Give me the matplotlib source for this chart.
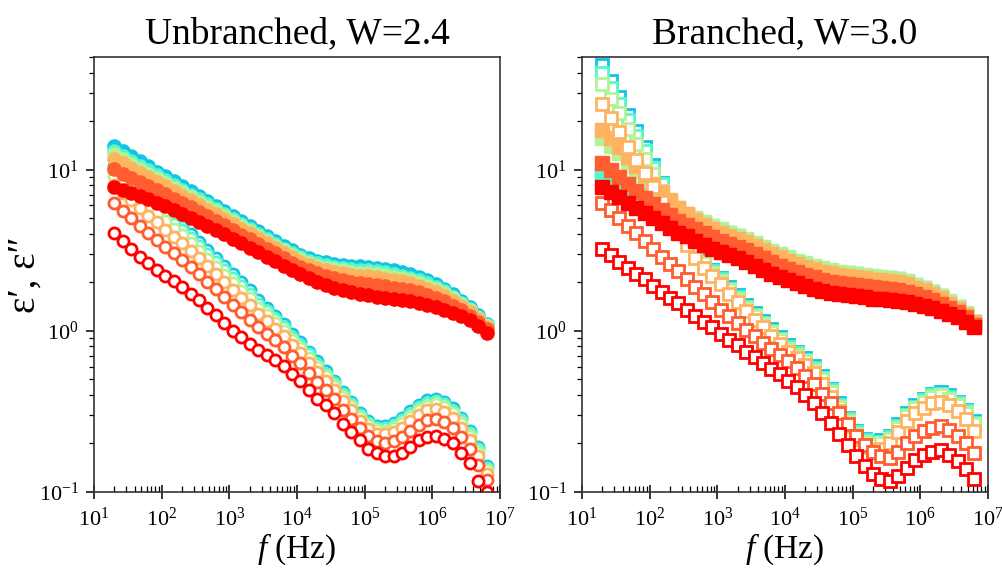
import matplotlib.pyplot as plt
from matplotlib.ticker import LogLocator
import numpy as np

plt.rcParams['font.family'] = ['Liberation Serif', 'DejaVu Serif']
plt.rcParams['mathtext.fontset'] = 'custom'
plt.rcParams['mathtext.rm'] = 'Liberation Serif'
plt.rcParams['mathtext.it'] = 'Liberation Serif:italic'

freq = [20, 26.7, 35.6, 47.4, 63.2, 84.3, 112, 150, 200, 267, 356, 474, 632, 843,
        1.12e3, 1.50e3, 2.00e3, 2.67e3, 3.56e3, 4.74e3, 6.32e3, 8.43e3,
        1.12e4, 1.50e4, 2.00e4, 2.67e4, 3.56e4, 4.74e4, 6.32e4, 8.43e4,
        1.12e5, 1.50e5, 2.00e5, 2.67e5, 3.56e5, 4.74e5, 6.32e5, 8.43e5,
        1.12e6, 1.50e6, 2.00e6, 2.67e6, 3.56e6, 4.74e6, 6.32e6]

# unbranched, eps' (filled circles), samples 1..6
unb_e1_1 = [14.06, 13.03, 12.11, 11.25, 10.47, 9.73, 9.08, 8.47, 7.89, 7.35, 6.85, 6.38, 5.96, 5.55, 5.16,
            4.81, 4.48, 4.16, 3.87, 3.61, 3.37, 3.15, 2.96, 2.82, 2.72, 2.66, 2.61, 2.57, 2.54, 2.52,
            2.50, 2.47, 2.43, 2.38, 2.32, 2.25, 2.17, 2.07, 1.96, 1.83, 1.69, 1.54, 1.40, 1.25, 1.10]
unb_e1_2 = [13.13, 12.20, 11.37, 10.59, 9.88, 9.21, 8.61, 8.04, 7.50, 7.00, 6.53, 6.09, 5.70, 5.31, 4.94,
            4.61, 4.30, 4.00, 3.72, 3.47, 3.24, 3.03, 2.85, 2.72, 2.62, 2.55, 2.50, 2.45, 2.42, 2.40,
            2.37, 2.34, 2.31, 2.26, 2.20, 2.14, 2.07, 1.98, 1.88, 1.76, 1.63, 1.49, 1.36, 1.22, 1.08]
unb_e1_3 = [12.45, 11.59, 10.82, 10.10, 9.45, 8.82, 8.27, 7.73, 7.22, 6.74, 6.30, 5.88, 5.51, 5.14, 4.79,
            4.47, 4.17, 3.88, 3.61, 3.37, 3.15, 2.95, 2.77, 2.64, 2.54, 2.47, 2.41, 2.37, 2.33, 2.30,
            2.28, 2.25, 2.21, 2.17, 2.12, 2.06, 1.99, 1.91, 1.82, 1.71, 1.59, 1.46, 1.34, 1.20, 1.07]
unb_e1_4 = [11.70, 10.93, 10.23, 9.57, 8.97, 8.40, 7.89, 7.39, 6.91, 6.46, 6.04, 5.65, 5.30, 4.95, 4.61,
            4.31, 4.02, 3.75, 3.49, 3.26, 3.05, 2.85, 2.69, 2.55, 2.45, 2.38, 2.32, 2.27, 2.23, 2.20,
            2.18, 2.15, 2.11, 2.07, 2.03, 1.97, 1.91, 1.83, 1.75, 1.65, 1.54, 1.42, 1.31, 1.18, 1.05]
unb_e1_5 = [10.02, 9.44, 8.89, 8.38, 7.91, 7.46, 7.05, 6.62, 6.21, 5.83, 5.47, 5.14, 4.83, 4.52, 4.22,
            3.95, 3.69, 3.45, 3.23, 3.02, 2.82, 2.64, 2.49, 2.37, 2.27, 2.19, 2.12, 2.06, 2.01, 1.98,
            1.95, 1.92, 1.89, 1.85, 1.82, 1.78, 1.73, 1.67, 1.60, 1.52, 1.43, 1.34, 1.24, 1.13, 1.02]
unb_e1_6 = [7.85, 7.50, 7.16, 6.84, 6.53, 6.24, 5.96, 5.62, 5.31, 5.01, 4.73, 4.47, 4.22, 3.96, 3.72,
            3.49, 3.27, 3.07, 2.88, 2.70, 2.53, 2.37, 2.24, 2.12, 2.02, 1.93, 1.85, 1.79, 1.73, 1.69,
            1.66, 1.63, 1.60, 1.57, 1.55, 1.52, 1.49, 1.45, 1.41, 1.35, 1.29, 1.23, 1.16, 1.07, 0.97]

# unbranched, eps'' (open circles)
unb_e2_1 = [10.5, 9.33, 8.51, 7.59, 6.76, 6.17, 5.50, 4.90, 4.47, 3.98, 3.55, 3.16, 2.82, 2.51, 2.24,
            2.00, 1.78, 1.55, 1.38, 1.23, 1.10, 0.955, 0.851, 0.741, 0.646, 0.562, 0.490, 0.417, 0.363, 0.309,
            0.275, 0.257, 0.257, 0.269, 0.288, 0.316, 0.347, 0.372, 0.380, 0.363, 0.331, 0.288, 0.240, 0.191, 0.145]
unb_e2_2 = [9.79, 8.73, 7.96, 7.10, 6.32, 5.77, 5.15, 4.60, 4.20, 3.75, 3.35, 2.99, 2.67, 2.38, 2.12,
            1.89, 1.69, 1.47, 1.32, 1.18, 1.05, 0.916, 0.818, 0.713, 0.622, 0.543, 0.474, 0.404, 0.352, 0.301,
            0.268, 0.250, 0.249, 0.260, 0.279, 0.305, 0.335, 0.358, 0.366, 0.350, 0.320, 0.279, 0.232, 0.184, 0.141]
unb_e2_3 = [9.10, 8.11, 7.36, 6.56, 5.87, 5.36, 4.79, 4.30, 3.92, 3.51, 3.13, 2.79, 2.50, 2.23, 1.99,
            1.77, 1.59, 1.39, 1.25, 1.12, 1.00, 0.875, 0.783, 0.682, 0.596, 0.524, 0.457, 0.389, 0.340, 0.291,
            0.259, 0.242, 0.240, 0.250, 0.267, 0.293, 0.321, 0.343, 0.351, 0.335, 0.307, 0.267, 0.224, 0.177, 0.137]
unb_e2_4 = [8.04, 7.16, 6.49, 5.78, 5.19, 4.73, 4.25, 3.84, 3.50, 3.13, 2.81, 2.51, 2.25, 2.00, 1.79,
            1.60, 1.44, 1.27, 1.15, 1.03, 0.927, 0.813, 0.730, 0.635, 0.557, 0.491, 0.431, 0.366, 0.321, 0.277,
            0.247, 0.230, 0.228, 0.235, 0.250, 0.274, 0.301, 0.321, 0.328, 0.313, 0.287, 0.250, 0.211, 0.166, 0.130]
unb_e2_5 = [6.24, 5.56, 5.00, 4.46, 4.03, 3.67, 3.31, 3.03, 2.76, 2.49, 2.25, 2.00, 1.81, 1.61, 1.44,
            1.30, 1.17, 1.05, 0.955, 0.873, 0.789, 0.695, 0.628, 0.547, 0.483, 0.431, 0.380, 0.324, 0.285, 0.249,
            0.222, 0.207, 0.202, 0.206, 0.218, 0.239, 0.262, 0.278, 0.284, 0.272, 0.251, 0.218, 0.186, 0.146, 0.118]
unb_e2_6 = [4.07, 3.63, 3.24, 2.88, 2.63, 2.40, 2.19, 2.04, 1.86, 1.70, 1.55, 1.38, 1.26, 1.12, 1.00,
            0.912, 0.832, 0.759, 0.708, 0.661, 0.603, 0.537, 0.490, 0.427, 0.380, 0.347, 0.309, 0.263, 0.234, 0.209,
            0.186, 0.174, 0.166, 0.166, 0.174, 0.191, 0.209, 0.219, 0.224, 0.214, 0.200, 0.174, 0.151, 0.117, 0.100]

# branched, eps' (filled squares)
br_e1_1 = [9.33, 8.70, 8.31, 7.77, 7.24, 6.92, 6.53, 6.17, 5.83, 5.49, 5.26, 4.95, 4.68, 4.42, 4.22,
           4.03, 3.85, 3.67, 3.47, 3.28, 3.08, 2.95, 2.83, 2.69, 2.59, 2.50, 2.42, 2.35, 2.29, 2.27,
           2.24, 2.20, 2.16, 2.14, 2.12, 2.09, 2.02, 1.92, 1.84, 1.74, 1.64, 1.51, 1.40, 1.28, 1.14]
br_e1_2 = [9.66, 9.01, 8.51, 7.95, 7.41, 7.00, 6.60, 6.24, 5.90, 5.56, 5.20, 4.90, 4.63, 4.37, 4.17,
           3.98, 3.81, 3.63, 3.43, 3.24, 3.05, 2.92, 2.79, 2.66, 2.57, 2.47, 2.39, 2.32, 2.27, 2.24,
           2.21, 2.17, 2.13, 2.12, 2.09, 2.07, 2.01, 1.91, 1.83, 1.73, 1.63, 1.50, 1.39, 1.27, 1.13]
br_e1_3 = [15.8, 14.1, 12.6, 11.1, 9.76, 8.71, 7.76, 7.00, 6.31, 5.75, 5.31, 5.01, 4.73, 4.47, 4.26,
           4.07, 3.89, 3.71, 3.51, 3.31, 3.12, 2.98, 2.86, 2.72, 2.62, 2.53, 2.44, 2.37, 2.32, 2.29,
           2.26, 2.22, 2.18, 2.17, 2.14, 2.11, 2.03, 1.93, 1.85, 1.75, 1.65, 1.52, 1.41, 1.29, 1.14]
br_e1_4 = [17.7, 15.7, 13.8, 12.0, 10.5, 9.23, 8.13, 7.25, 6.46, 5.82, 5.31, 4.90, 4.52, 4.27, 4.07,
           3.89, 3.72, 3.55, 3.35, 3.16, 2.98, 2.85, 2.73, 2.60, 2.50, 2.41, 2.33, 2.27, 2.21, 2.19,
           2.16, 2.12, 2.08, 2.07, 2.04, 2.02, 1.95, 1.85, 1.78, 1.69, 1.59, 1.47, 1.37, 1.26, 1.13]
br_e1_5 = [10.96, 9.88, 9.02, 8.13, 7.33, 6.69, 6.09, 5.63, 5.20, 4.78, 4.52, 4.27, 4.03, 3.81, 3.63,
           3.47, 3.31, 3.16, 2.98, 2.82, 2.66, 2.54, 2.43, 2.31, 2.23, 2.15, 2.08, 2.02, 1.97, 1.95,
           1.93, 1.89, 1.86, 1.84, 1.82, 1.80, 1.74, 1.68, 1.62, 1.55, 1.47, 1.39, 1.31, 1.21, 1.09]
br_e1_6 = [7.85, 7.24, 6.76, 6.24, 5.75, 5.37, 5.01, 4.68, 4.37, 4.07, 3.85, 3.63, 3.43, 3.24, 3.09,
           2.95, 2.82, 2.69, 2.54, 2.40, 2.26, 2.16, 2.07, 1.97, 1.90, 1.83, 1.77, 1.72, 1.68, 1.66,
           1.64, 1.61, 1.58, 1.57, 1.55, 1.53, 1.50, 1.46, 1.43, 1.38, 1.33, 1.27, 1.22, 1.14, 1.05]

# branched, eps'' (open squares)
br_e2_1 = [44.7, 35.5, 28.2, 21.9, 17.4, 13.8, 10.7, 8.32, 6.46, 5.01, 3.98, 3.24, 2.75, 2.40, 2.14,
           1.86, 1.66, 1.45, 1.29, 1.15, 1.02, 0.912, 0.813, 0.741, 0.676, 0.603, 0.525, 0.437, 0.355, 0.288,
           0.240, 0.214, 0.204, 0.209, 0.224, 0.263, 0.309, 0.347, 0.380, 0.407, 0.417, 0.398, 0.363, 0.324, 0.275]
br_e2_2 = [39.8, 32.0, 25.7, 20.2, 16.2, 13.0, 10.2, 8.13, 6.31, 4.90, 3.89, 3.16, 2.69, 2.34, 2.09,
           1.82, 1.62, 1.41, 1.26, 1.12, 1.00, 0.891, 0.794, 0.724, 0.661, 0.589, 0.513, 0.427, 0.347, 0.282,
           0.234, 0.209, 0.200, 0.204, 0.219, 0.257, 0.302, 0.339, 0.372, 0.398, 0.407, 0.389, 0.355, 0.316, 0.269]
br_e2_3 = [33.9, 27.5, 22.4, 17.8, 14.5, 11.7, 9.33, 7.41, 5.89, 4.68, 3.80, 3.09, 2.63, 2.29, 2.04,
           1.78, 1.58, 1.38, 1.23, 1.10, 0.977, 0.871, 0.776, 0.708, 0.646, 0.575, 0.501, 0.417, 0.339, 0.275,
           0.229, 0.204, 0.195, 0.200, 0.214, 0.251, 0.295, 0.331, 0.363, 0.389, 0.398, 0.380, 0.347, 0.309, 0.263]
br_e2_4 = [25.7, 20.9, 17.0, 13.8, 11.5, 9.55, 7.76, 6.31, 5.13, 4.17, 3.39, 2.82, 2.45, 2.19, 1.95,
           1.70, 1.51, 1.32, 1.17, 1.05, 0.933, 0.832, 0.741, 0.676, 0.617, 0.550, 0.468, 0.389, 0.316, 0.257,
           0.214, 0.191, 0.182, 0.186, 0.200, 0.234, 0.275, 0.309, 0.331, 0.355, 0.363, 0.347, 0.316, 0.282, 0.240]
br_e2_5 = [6.24, 5.62, 5.01, 4.47, 4.03, 3.63, 3.24, 2.88, 2.60, 2.34, 2.09, 1.86, 1.68, 1.51, 1.35,
           1.23, 1.12, 1.01, 0.923, 0.841, 0.767, 0.708, 0.646, 0.589, 0.525, 0.468, 0.407, 0.359, 0.309, 0.263,
           0.224, 0.197, 0.178, 0.166, 0.162, 0.176, 0.200, 0.224, 0.240, 0.251, 0.257, 0.243, 0.224, 0.200, 0.174]
br_e2_6 = [3.20, 2.95, 2.69, 2.45, 2.26, 2.09, 1.91, 1.74, 1.60, 1.48, 1.35, 1.23, 1.14, 1.05, 0.955,
           0.881, 0.813, 0.741, 0.684, 0.631, 0.582, 0.537, 0.490, 0.447, 0.398, 0.355, 0.309, 0.269, 0.229, 0.195,
           0.166, 0.145, 0.129, 0.120, 0.117, 0.126, 0.141, 0.158, 0.170, 0.178, 0.182, 0.170, 0.155, 0.138, 0.120]

unb_e1 = [unb_e1_1, unb_e1_2, unb_e1_3, unb_e1_4, unb_e1_5, unb_e1_6]
unb_e2 = [unb_e2_1, unb_e2_2, unb_e2_3, unb_e2_4, unb_e2_5, unb_e2_6]
br_e1 = [br_e1_1, br_e1_2, br_e1_3, br_e1_4, br_e1_5, br_e1_6]
br_e2 = [br_e2_1, br_e2_2, br_e2_3, br_e2_4, br_e2_5, br_e2_6]

colors = plt.cm.rainbow([0.28, 0.42, 0.6, 0.75, 0.88, 1.0])

fig = plt.figure(figsize=(10.02, 5.71), dpi=100)
ax1 = fig.add_axes([0.0938, 0.1384, 0.4052, 0.7618])
ax2 = fig.add_axes([0.5808, 0.1384, 0.4052, 0.7618])

panels = [(ax1, unb_e1, unb_e2, 'o', 'Unbranched, W=2.4'),
          (ax2, br_e1, br_e2, 's', 'Branched, W=3.0')]

for ax, e1, e2, mk, title in panels:
    for c, y1, y2 in zip(colors, e1, e2):
        ax.plot(freq, y1, mk, ls='none', ms=9.5, color=c, mec=c, mew=1)
        ax.plot(freq, y2, mk, ls='none', ms=8, mfc='white', mec=c, mew=2)
    ax.set_xscale('log')
    ax.set_yscale('log')
    ax.set_xlim(10, 1e7)
    ax.set_ylim(0.1, 50)
    ax.xaxis.set_major_locator(LogLocator(base=10, numticks=12))
    ax.xaxis.set_minor_locator(LogLocator(base=10, subs=np.arange(2, 10), numticks=12))
    ax.set_title(title, fontsize=27, pad=10)
    ax.set_xlabel('$f$ (Hz)', fontsize=24)
    ax.xaxis.set_label_coords(0.5, -0.09)
    ax.tick_params(axis='x', which='major', direction='inout', length=10, width=1.1,
                   labelsize=16, pad=6)
    ax.tick_params(axis='x', which='minor', direction='in', length=4, width=0.9)
    ax.tick_params(axis='y', which='major', direction='out', length=6, width=1.1,
                   labelsize=16, pad=5)
    ax.tick_params(axis='y', which='minor', direction='out', length=3.5, width=0.9)
    for sp in ax.spines.values():
        sp.set_linewidth(1.2)
        sp.set_color('#333333')

ax1.set_ylabel('ε′, ε″', fontsize=28)
ax1.yaxis.set_label_coords(-0.125, 0.5)

fig.savefig('out.png', dpi=100)
